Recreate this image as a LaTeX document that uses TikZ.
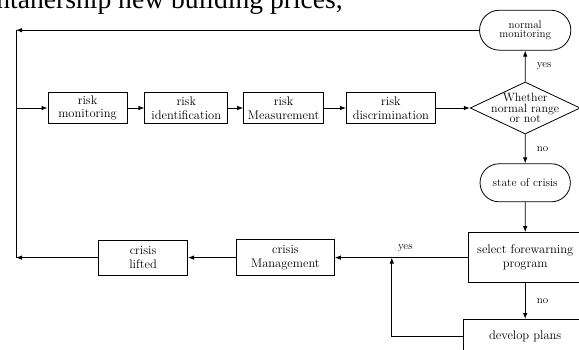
\documentclass[tikz,border=0pt]{standalone}
\usepackage{fontspec}
\newfontfamily\pagefont{Liberation Serif}
\usetikzlibrary{arrows.meta,positioning,shapes.geometric,shapes.misc}
\tikzset{
  >={Latex[length=6pt,width=4.5pt]},
  font=\fontsize{12.5}{13.5}\selectfont,
  stage/.style ={draw, line width=0.8pt, minimum height=31pt, minimum width=79pt, align=center, inner sep=2pt},
  state/.style ={draw, line width=0.8pt, rounded rectangle, minimum height=38pt, minimum width=97pt, align=center},
  judge/.style ={draw, line width=0.8pt, diamond, aspect=2.1, inner sep=-6pt, minimum width=110pt, minimum height=52pt, align=center, font=\fontsize{12}{10.5}\selectfont},
  arr/.style   ={->, line width=0.8pt},
  lnk/.style   ={line width=0.8pt},
  lbl/.style   ={font=\fontsize{11}{12}\selectfont},
}

\begin{document}
\begin{tikzpicture}[x=1pt,y=-1pt]
  \useasboundingbox (0,0) rectangle (579,350);
  \clip (0,0) rectangle (579,350);

  % line of page text above the figure
  \node[anchor=base east, inner sep=0, font=\pagefont\fontsize{27.6}{30}\selectfont] (pagetext) at (343,9) {ontanership new building prices,};

  % monitoring chain
  \node[stage] (mon) at (87.5,108) {risk\\monitoring};
  \node[stage, minimum width=83pt, right=17pt of mon] (ident) {risk\\identification};
  \node[stage, minimum width=80pt, right=15pt of ident] (meas) {risk\\Measurement};
  \node[stage, minimum width=89pt, right=22pt of meas] (disc) {risk\\discrimination};
  \node[judge, right=34pt of disc] (judge) {Whether\\normal range\\or not};
  \node[state, minimum width=98pt, minimum height=40pt, above=31pt of judge, font=\fontsize{11}{9.5}\selectfont] (norm) {normal\\monitoring};

  % crisis branch
  \node[state, below=29pt of judge, font=\fontsize{11.5}{12}\selectfont] (crisis) {state of crisis};
  \node[stage, minimum width=114pt, minimum height=50pt, below=30pt of crisis] (select) {select forewarning\\program};
  \node[stage, minimum width=124pt, minimum height=34pt, below=36pt of select] (plans) {develop plans};
  \node[stage, minimum width=98pt, minimum height=36pt, left=133pt of select] (manage) {crisis\\Management};
  \node[stage, minimum width=89pt, minimum height=35pt, left=48pt of manage] (lifted) {crisis\\lifted};

  \coordinate (tl) at (16,32);
  \path (select.west) ++(-76,0) coordinate (join);

  \draw[arr] (mon) -- (ident);
  \draw[arr] (ident) -- (meas);
  \draw[arr] (meas) -- (disc);
  \draw[arr] (disc) -- (judge);
  \draw[arr] (judge) -- node[lbl,right=8pt]{yes} (norm);
  \draw[arr] (judge) -- node[lbl,right=8pt]{no} (crisis);
  \draw[arr] (crisis) -- (select);
  \draw[arr] (select) -- node[lbl,right=8pt]{no} (plans);
  \draw[arr] (select) -- node[lbl,above,pos=0.47,yshift=2pt]{yes} (manage);
  \draw[arr] (plans.west) -| (join);
  \draw[arr] (manage) -- (lifted);

  % feedback loop on the left
  \draw[arr] (norm.west) -- (norm.west -| tl);
  \draw[lnk] (norm.west -| tl) -- (lifted.west -| tl);
  \draw[arr] (lifted) -- (lifted -| tl);
  \draw[arr] (mon -| tl) -- (mon);
\end{tikzpicture}
\end{document}
